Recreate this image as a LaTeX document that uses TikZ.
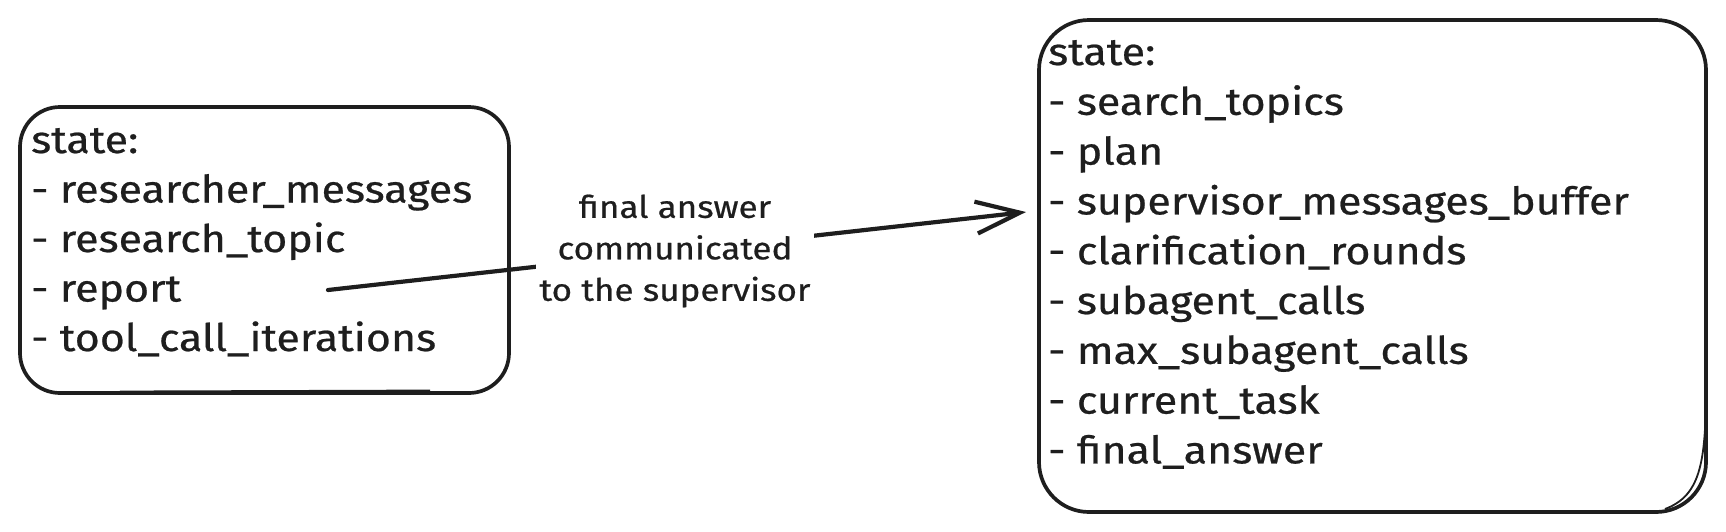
\documentclass[tikz,border=0pt]{standalone}
\usepackage{fontspec}
\setmainfont[FakeStretch=1.13,FakeBold=0.6]{Fira Sans}
\usetikzlibrary{arrows.meta}
\definecolor{ink}{HTML}{1E1E1E}
\begin{document}
\begin{tikzpicture}[x=1pt,y=-1pt,
  box/.style={draw=ink, line width=3.7pt, rounded corners=40pt, inner sep=0pt},
  listtext/.style={anchor=base west, inner sep=0pt, text=ink, font=\fontsize{38}{44}\selectfont},
  lbltext/.style={fill=white, align=center, inner sep=3pt, text=ink, font=\fontsize{31}{41.5}\selectfont},
  conn/.style={draw=ink, line width=4.2pt, line cap=round, -{Straight Barb[length=44pt,width=32pt,line width=4.2pt]}}
]
\useasboundingbox (0,0) rectangle (1726,531);
% boxes
\node[box, minimum width=489pt, minimum height=286pt] (lbox) at (264.5,250) {};
\node[box, rounded corners=50pt, minimum width=667pt, minimum height=492pt] (rbox) at (1372.5,266) {};
% sketchy second strokes
\draw[ink, line width=1.8pt] (120,391.5) -- (430,390.5);
\draw[ink, line width=1.8pt] (1706,380) .. controls (1706,460) and (1702,495) .. (1665,509);
% left list
\foreach \t [count=\i from 0] in {state:, - researcher\_messages, - research\_topic, - report, - tool\_call\_iterations}
  \node[listtext] (l\i) at (31,153+49.5*\i) {\t};
% right list
\foreach \t [count=\i from 0] in {state:, - search\_topics, - plan, - supervisor\_messages\_buffer, - clarification\_rounds, - subagent\_calls, - max\_subagent\_calls, - current\_task, - final\_answer}
  \node[listtext] (r\i) at (1048,65+49.8*\i) {\t};
% connector
\coordinate (src) at (328,290);
\coordinate (dst) at (1026,212);
\draw[conn] (src) -- (dst);
\node[lbltext] (lbl) at (675,251) {final answer\\communicated\\to the supervisor};
\end{tikzpicture}
\end{document}
